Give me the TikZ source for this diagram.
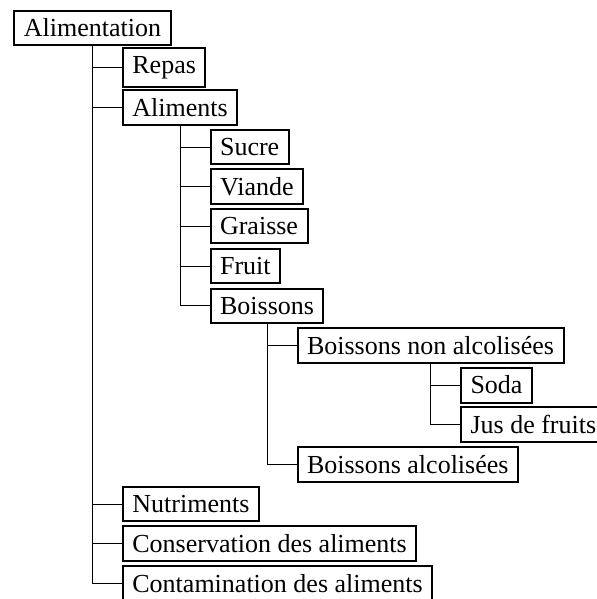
\documentclass[tikz,border=0pt]{standalone}
\usepackage{fontspec}
\setmainfont{Liberation Serif}
\usepackage{tikz}

\begin{document}
\begin{tikzpicture}[x=0.5pt,y=-0.5pt,
  rubrique/.style={draw,line width=1pt,anchor=west,inner xsep=4.75pt,inner ysep=4.15pt,font=\fontsize{13}{15}\selectfont},
  enfant/.style={rubrique,xshift=14.75pt},
  lien/.style={line width=0.5pt}]
\useasboundingbox (0,0) rectangle (596,599);

\node[rubrique] (alim) at (13.3,28) {Alimentation};

\node[enfant] (repas) at (alim.south |- 0,67.7) {Repas};
\node[enfant] (aliments) at (alim.south |- 0,107.4) {Aliments};

\node[enfant] (sucre) at (aliments.south |- 0,147) {Sucre};
\node[enfant] (viande) at (aliments.south |- 0,186.7) {Viande};
\node[enfant] (graisse) at (aliments.south |- 0,226.4) {Graisse};
\node[enfant] (fruit) at (aliments.south |- 0,266.1) {Fruit};
\node[enfant] (boissons) at (aliments.south |- 0,305.8) {Boissons};

\node[enfant] (nonalc) at (boissons.south |- 0,345.4) {Boissons non alcolisées};
\node[enfant] (soda) at (nonalc.south |- 0,385.1) {Soda};
\node[enfant] (jus) at (nonalc.south |- 0,424.8) {Jus de fruits};
\node[enfant] (alc) at (boissons.south |- 0,464.5) {Boissons alcolisées};

\node[enfant] (nutri) at (alim.south |- 0,504.2) {Nutriments};
\node[enfant] (conserv) at (alim.south |- 0,543.8) {Conservation des aliments};
\node[enfant] (contam) at (alim.south |- 0,583.5) {Contamination des aliments};

% liens
\draw[lien] (alim.south) |- (repas.west);
\draw[lien] (alim.south) |- (aliments.west);
\draw[lien] (alim.south) |- (nutri.west);
\draw[lien] (alim.south) |- (conserv.west);
\draw[lien] (alim.south) |- (contam.west);

\draw[lien] (aliments.south) |- (sucre.west);
\draw[lien] (aliments.south) |- (viande.west);
\draw[lien] (aliments.south) |- (graisse.west);
\draw[lien] (aliments.south) |- (fruit.west);
\draw[lien] (aliments.south) |- (boissons.west);

\draw[lien] (boissons.south) |- (nonalc.west);
\draw[lien] (boissons.south) |- (alc.west);

\draw[lien] (nonalc.south) |- (soda.west);
\draw[lien] (nonalc.south) |- (jus.west);

\end{tikzpicture}
\end{document}
